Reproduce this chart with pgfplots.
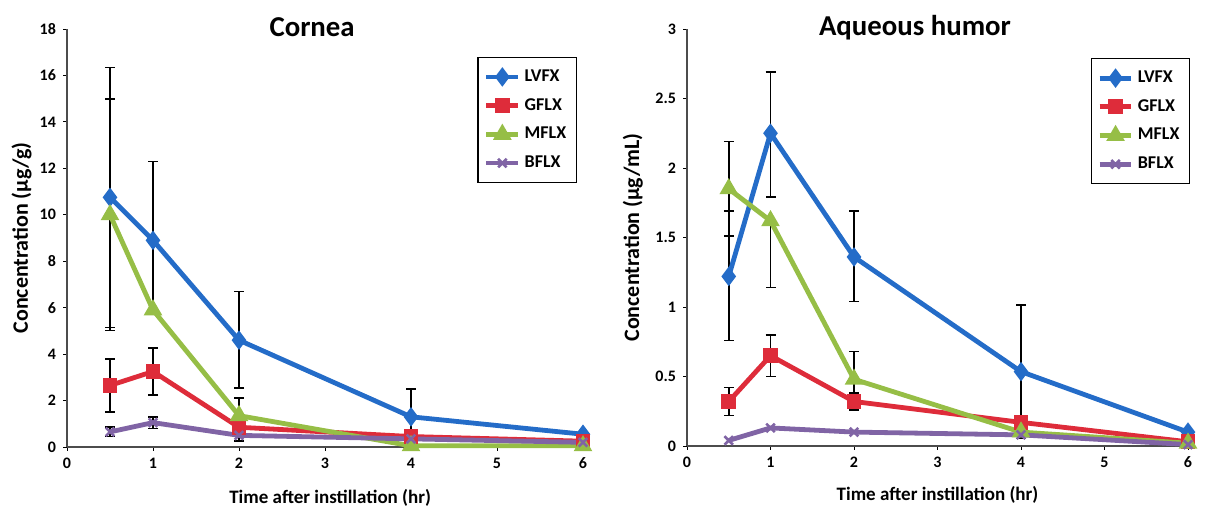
\documentclass[border=0pt]{standalone}
\usepackage{pgfplots}
\pgfplotsset{compat=1.18}
\usepackage{pgfplotstable}
\usepackage{fontspec}
\setmainfont{Carlito}

\definecolor{cLV}{RGB}{36,108,200}
\definecolor{cGF}{RGB}{222,44,58}
\definecolor{cMF}{RGB}{150,190,70}
\definecolor{cBF}{RGB}{128,100,165}

% cornea (ug/g)
\pgfplotstableread{
x y
0.5 10.75
1 8.9
2 4.6
4 1.3
6 0.55
}\corLV
\pgfplotstableread{
x y
0.5 2.65
1 3.25
2 0.85
4 0.45
6 0.25
}\corGF
\pgfplotstableread{
x y
0.5 10.0
1 5.9
2 1.35
4 0.05
6 0.05
}\corMF
\pgfplotstableread{
x y
0.5 0.65
1 1.05
2 0.5
4 0.35
6 0.2
}\corBF
% error bars: x y err+ err-
\pgfplotstableread{
x y ep em
0.5 10.75 5.6 5.6
1 8.9 3.4 3.2
2 4.6 2.1 2.05
4 1.3 1.2 1.2
0.5 2.65 1.15 1.15
1 3.25 1.0 1.0
2 0.85 0.6 0.6
0.5 10.0 4.98 4.98
2 1.35 0.75 0.75
0.5 0.65 0.2 0.2
1 1.05 0.25 0.25
}\corErr

% aqueous humor (ug/mL)
\pgfplotstableread{
x y
0.5 1.22
1 2.25
2 1.36
4 0.535
6 0.1
}\aqLV
\pgfplotstableread{
x y
0.5 0.32
1 0.65
2 0.32
4 0.17
6 0.03
}\aqGF
\pgfplotstableread{
x y
0.5 1.85
1 1.62
2 0.48
4 0.1
6 0.02
}\aqMF
\pgfplotstableread{
x y
0.5 0.04
1 0.13
2 0.10
4 0.08
6 0.01
}\aqBF
\pgfplotstableread{
x y ep em
0.5 1.22 0.47 0.46
1 2.25 0.44 0.46
2 1.36 0.33 0.32
4 0.535 0.48 0.48
0.5 0.32 0.1 0.1
1 0.65 0.15 0.15
2 0.32 0.06 0.06
4 0.17 0.05 0.05
0.5 1.85 0.34 0.34
1 1.62 0 0.48
2 0.48 0.2 0.2
}\aqErr

\pgfplotsset{
  chart/.style={
    scale only axis,
    axis lines*=left,
    xmin=0, xmax=6,
    ymin=0,
    xtick={0,...,6},
    clip=false,
    tick align=outside,
    major tick length=2pt,
    tick style={black, line width=0.4pt},
    axis line style={black!70, line width=0.6pt},
    /pgf/number format/assume math mode=true,
    ticklabel style={font=\bfseries\footnotesize},
    xlabel style={font=\bfseries\fontsize{9.5}{11}\selectfont},
    ylabel style={font=\bfseries\fontsize{11}{13}\selectfont},
    xlabel={Time after instillation (hr)},
    title style={font=\bfseries\Large},
    legend cell align=left,
    legend style={draw=black, line width=0.6pt, font=\bfseries\small,
      row sep=3pt, inner xsep=3pt, inner ysep=4pt},
    legend image code/.code={
      \draw[mark repeat=2,mark phase=2] plot coordinates {(0cm,0cm) (0.28cm,0cm) (0.56cm,0cm)};},
  },
  sLV/.style={color=cLV, line width=2.4pt, mark=diamond*, mark size=2.9pt},
  sGF/.style={color=cGF, line width=2.4pt, mark=square*, mark size=2.5pt},
  sMF/.style={color=cMF, line width=2.4pt, mark=triangle*, mark size=3pt},
  sBF/.style={color=cBF, line width=2.4pt, mark=x, mark size=3pt, mark options={line width=1.3pt}},
  errbar/.style={forget plot, draw=none, mark=none,
    error bars/.cd, y dir=both, y explicit,
    error bar style={draw=black, line width=0.8pt},
    error mark options={draw=black, line width=0.8pt, mark size=2.5pt, rotate=90}},
}

\begin{document}
\begin{tikzpicture}
\useasboundingbox (0,0) rectangle (604pt,256pt);

\begin{axis}[chart,
  at={(33.5pt,32.5pt)}, width=258pt, height=209pt,
  ymax=18, ytick={0,2,...,18},
  ylabel={Concentration (µg/g)},
  xlabel style={at={(axis description cs:0.51,-0.085)}, anchor=north},
  ylabel style={at={(axis description cs:-0.088,0.5)}, anchor=center},
  title={Cornea}, title style={at={(axis description cs:0.475,0.975)}, anchor=center},
  legend style={at={(0.988,0.933)}, anchor=north east},
]
\addplot[errbar] table[x=x, y=y, y error plus=ep, y error minus=em] {\corErr};
\addplot[sLV] table[x=x, y=y] {\corLV}; \addlegendentry{LVFX}
\addplot[sGF] table[x=x, y=y] {\corGF}; \addlegendentry{GFLX}
\addplot[sMF] table[x=x, y=y] {\corMF}; \addlegendentry{MFLX}
\addplot[sBF] table[x=x, y=y] {\corBF}; \addlegendentry{BFLX}
\end{axis}

\begin{axis}[chart,
  at={(343.5pt,33pt)}, width=250.5pt, height=208.5pt,
  ymax=3, ytick={0,0.5,...,3},
  yticklabels={0,0.5,1,1.5,2,2.5,3},
  ylabel={Concentration (µg/mL)},
  xlabel style={at={(axis description cs:0.5,-0.08)}, anchor=north},
  ylabel style={at={(axis description cs:-0.108,0.5)}, anchor=center},
  title={Aqueous humor}, title style={at={(axis description cs:0.455,0.975)}, anchor=center},
  legend style={at={(1.004,0.93)}, anchor=north east},
]
\addplot[errbar] table[x=x, y=y, y error plus=ep, y error minus=em] {\aqErr};
\addplot[sLV] table[x=x, y=y] {\aqLV}; \addlegendentry{LVFX}
\addplot[sGF] table[x=x, y=y] {\aqGF}; \addlegendentry{GFLX}
\addplot[sMF] table[x=x, y=y] {\aqMF}; \addlegendentry{MFLX}
\addplot[sBF] table[x=x, y=y] {\aqBF}; \addlegendentry{BFLX}
\end{axis}
\end{tikzpicture}
\end{document}
